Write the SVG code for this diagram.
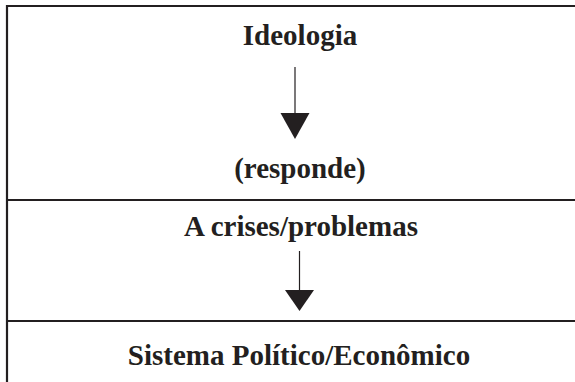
<svg xmlns="http://www.w3.org/2000/svg" width="575" height="382" viewBox="0 0 575 382">
<style>
.t{font-family:"Liberation Serif","Times New Roman",serif;font-weight:bold;font-size:29px;fill:#231f20;text-anchor:middle}
.ln{stroke:#231f20;stroke-width:2.2;fill:none}
.ar{stroke:#231f20;stroke-width:1.2;fill:none}
.hd{fill:#231f20}
</style>
<rect width="575" height="382" fill="#ffffff"/>
<g id="frame">
<path class="ln" d="M7,400 V6 H580"/>
<path class="ln" d="M7,200 H580"/>
<path class="ln" d="M7,321 H580"/>
</g>
<g id="ideologia"><text class="t" x="300" y="45">Ideologia</text></g>
<g id="responde"><text class="t" x="300" y="178">(responde)</text></g>
<g id="crises"><text class="t" x="301" y="236">A crises/problemas</text></g>
<g id="sistema"><text class="t" x="299" y="365">Sistema Político/Econômico</text></g>
<g id="connectors">
<line class="ar" x1="295" y1="67" x2="295" y2="114"/>
<polygon class="hd" points="280.5,113 309.5,113 295,139"/>
<line class="ar" x1="299.5" y1="251" x2="299.5" y2="291"/>
<polygon class="hd" points="285,290 314,290 299.5,311"/>
</g>
</svg>
